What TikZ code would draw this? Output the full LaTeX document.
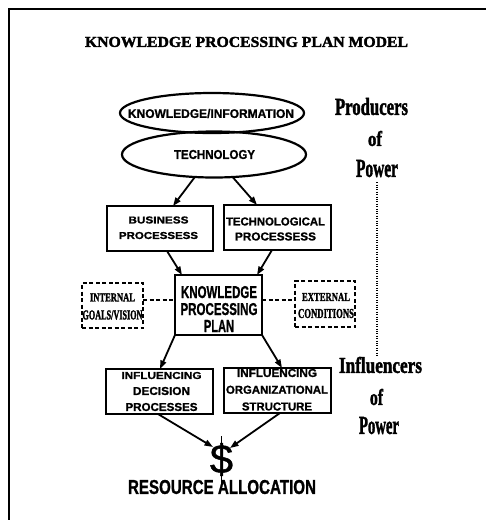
\documentclass[tikz,border=0pt]{standalone}
\usepackage{fontspec}
\setmainfont{Liberation Serif}
\newfontfamily\sansf{Liberation Sans}[FakeBold=1.2]
\newfontfamily\hserif{Liberation Serif}[FakeBold=2]
\usepackage{graphicx}
\usetikzlibrary{shapes.geometric,arrows.meta}
\newcommand{\fb}[3]{\resizebox{#1pt}{#2pt}{#3}}
\begin{document}
\begin{tikzpicture}[x=1pt,y=-1pt,
  every node/.style={inner sep=0pt, outer sep=0pt},
  boxn/.style={draw, line width=1.5pt, inner sep=0pt},
  dboxn/.style={draw, line width=1.3pt, dash pattern=on 4pt off 2.5pt, inner sep=0pt},
  ell/.style={draw, ellipse, line width=2.2pt, inner sep=0pt},
  arr/.style={line width=1.8pt, -{Triangle[length=8.5pt,width=6pt]}},
  dconn/.style={line width=1.3pt, dash pattern=on 4pt off 2.5pt},
  dotline/.style={line width=1.3pt, dash pattern=on 1.1pt off 1.3pt},
  sbf/.style={font=\sansf\bfseries, align=center},
  rbf/.style={font=\hserif\bfseries, align=center},
]
\useasboundingbox (0,0) rectangle (486,520);
% frame
\draw[line width=1.5pt] (9,521) -- (9,9);
\draw[line width=2.2pt] (8.3,9) -- (487,9);

% title
\node[rbf] (title) at (246.5,42) {\fb{323}{10}{KNOWLEDGE PROCESSING PLAN MODEL}};

% ellipses
\node[ell, minimum width=184pt, minimum height=40pt] (kinfo) at (212,113) {};
\node[ell, minimum width=184pt, minimum height=46pt] (tech) at (214,154.5) {};
\node[sbf] (kinfoT) at (211,113.5) {\fb{166}{9}{KNOWLEDGE/INFORMATION}};
\node[sbf] (techT) at (214.5,154.5) {\fb{81}{9}{TECHNOLOGY}};

% boxes
\node[boxn, minimum width=106pt, minimum height=45pt] (bus) at (160,228.5) {};
\node[boxn, minimum width=107pt, minimum height=45pt] (techp) at (277.5,227.5) {};
\node[boxn, minimum width=87pt, minimum height=60pt] (kpp) at (218.5,305) {};
\node[dboxn, minimum width=61pt, minimum height=45pt] (intl) at (112.5,305.5) {};
\node[dboxn, minimum width=60pt, minimum height=46pt] (extl) at (325,304) {};
\node[boxn, minimum width=107pt, minimum height=45pt] (dec) at (159.5,391.5) {};
\node[boxn, minimum width=107pt, minimum height=45pt] (org) at (277.5,390.5) {};

% box texts
\node[sbf, font=\sansf\bfseries\fontsize{8}{15.5}\selectfont] (busT) at (158.5,227.75)
  {\fb{60}{7}{BUSINESS}\\\fb{79}{7}{PROCESSESS}};
\node[sbf, font=\sansf\bfseries\fontsize{8}{15}\selectfont] (techpT) at (275.5,229)
  {\fb{99}{8}{TECHNOLOGICAL}\\\fb{81}{8}{PROCESSESS}};
\node[sbf, font=\sansf\bfseries\fontsize{12}{17}\selectfont] (kppT) at (219,309)
  {\fb{76}{12}{KNOWLEDGE}\\\fb{77}{12}{PROCESSING}\\\fb{30}{12}{PLAN}};
\node[rbf, font=\hserif\bfseries\fontsize{8}{18}\selectfont] (intlT) at (112.5,306.5)
  {\fb{45}{8}{INTERNAL}\\\fb{60}{9}{GOALS/VISION}};
\node[rbf, font=\hserif\bfseries\fontsize{8}{17}\selectfont] (extlT) at (326,305.5)
  {\fb{48}{8}{EXTERNAL}\\\fb{56}{9}{CONDITIONS}};
\node[sbf, font=\sansf\bfseries\fontsize{8}{16}\selectfont] (decT) at (161.5,391.5)
  {\fb{80}{7}{INFLUENCING}\\\fb{57}{8}{DECISION}\\\fb{72}{8}{PROCESSES}};
\node[sbf, font=\sansf\bfseries\fontsize{8}{16.75}\selectfont] (orgT) at (277,389.75)
  {\fb{80}{8}{INFLUENCING}\\\fb{102}{8}{ORGANIZATIONAL}\\\fb{70}{8}{STRUCTURE}};

% right-hand labels
\node[rbf] (prod) at (371.5,106.5) {\fb{73}{17}{Producers}};
\node[rbf] (of1) at (375,138.5) {\fb{14}{15}{of}};
\node[rbf] (pow1) at (377,168.5) {\fb{42}{17}{Power}};
\node[rbf] (infl) at (380.5,365) {\fb{83}{16}{Influencers}};
\node[rbf] (of2) at (376.5,397) {\fb{13}{16}{of}};
\node[rbf] (pow2) at (379,425.5) {\fb{40}{17}{Power}};
\draw[dotline] ([yshift=-5pt]pow1.south) -- (pow1.south |- infl.north);

% resource allocation
\node[font=\sansf, anchor=base] (dollar) at (221.5,473)
  {\raisebox{0pt}[\height][0pt]{\fb{23}{30}{\$}}};
\draw[line width=1.7pt] ([yshift=7pt]dollar.north) -- ([yshift=-12pt]dollar.south);
\node[sbf] (res) at (222,487) {\fb{188}{14}{RESOURCE ALLOCATION}};
\coordinate (tipL) at (213,447);
\coordinate (tipR) at (230,448);

% connectors
\draw[arr] ([xshift=-19.5pt]tech.south) -- ([xshift=13pt]bus.north);
\draw[arr] ([xshift=19pt]tech.south) -- ([xshift=-20.5pt]techp.north);
\draw[arr] ([xshift=7pt]bus.south) -- ([xshift=-36.5pt]kpp.north);
\draw[arr] ([xshift=-5.5pt]techp.south) -- ([xshift=38.5pt]kpp.north);
\draw[arr] (kpp.south west) -- ([xshift=0.5pt]dec.north);
\draw[arr] (kpp.south east) -- ([xshift=4.5pt]org.north);
\draw[arr] ([xshift=-1.5pt]dec.south) -- (tipL);
\draw[arr] ([xshift=2.5pt]org.south) -- (tipR);
\draw[dconn] (intl.east |- 0,300) -- (kpp.west |- 0,300);
\draw[dconn] (kpp.east |- 0,300) -- (extl.west |- 0,300);
\end{tikzpicture}
\end{document}
